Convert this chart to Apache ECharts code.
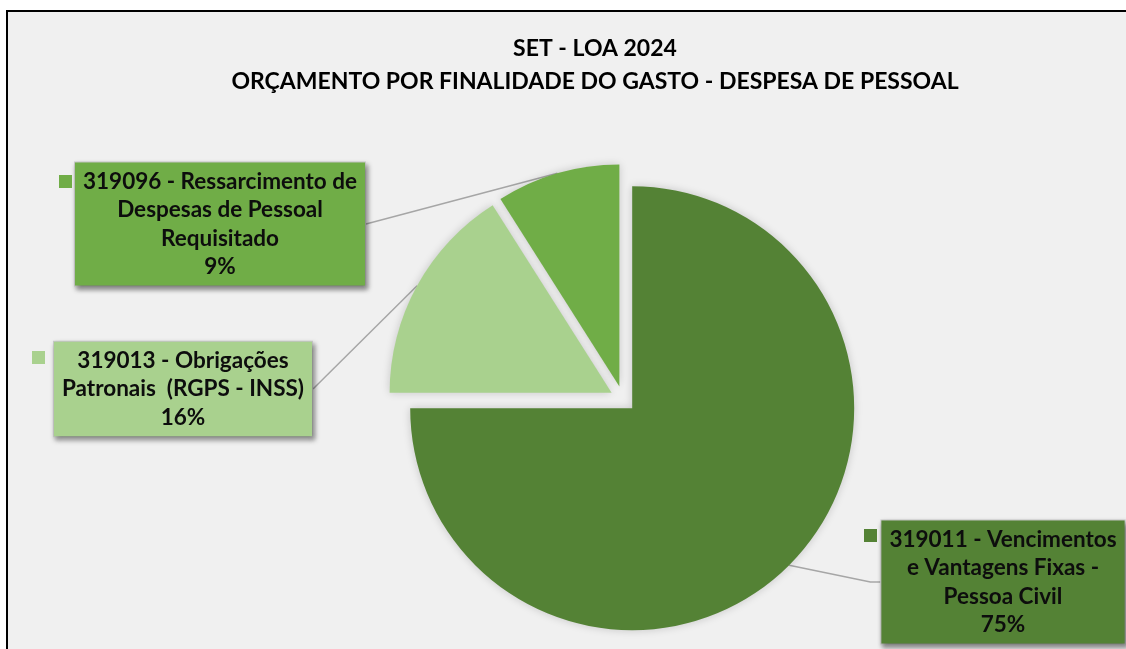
<!DOCTYPE html>
<html>
<head>
<meta charset="utf-8">
<script src="https://cdn.jsdelivr.net/npm/echarts@6/dist/echarts.min.js"></script>
<style>
  html, body { margin: 0; padding: 0; background: #fff; overflow: hidden; }
  #chart {
    position: absolute; left: 6px; top: 10px;
    width: 1174px; height: 680px;
    border: 2px solid #000; background: #f0f0f0;
  }
</style>
</head>
<body>
<div id="chart"></div>
<script>
// dados
const categories = [
  '319011 - Vencimentos\ne Vantagens Fixas -\nPessoa Civil',
  '319013 - Obrigações\nPatronais  (RGPS - INSS)',
  '319096 - Ressarcimento de\nDespesas de Pessoal\nRequisitado'
];
const percents = [75, 16, 9];
const colors = ['#548235', '#A9D18E', '#70AD47'];

// layout
const CENTER = [615, 387];
const RADIUS = 222;
const EXPLODE = 13;
const labelCenters = [[995, 570], [175, 377], [212, 212]];
const keyPos = [[856, 517], [24, 339], [51, 163]];
const lineLen = [[20, 10], [0, 0], [0, 0]];

const FONT = 'Lato';
const FONTSIZE = 22.5;
const myChart = echarts.init(document.getElementById('chart'));

const total = percents.reduce((a, b) => a + b, 0);

// cada fatia em sua propria serie, deslocada para fora (fatia destacada)
let acc = 0;
const series = percents.map((p, k) => {
  const mid = (acc + p / 2) / total * 2 * Math.PI;
  acc += p;
  return {
    type: 'pie',
    center: [CENTER[0] + EXPLODE * Math.sin(mid), CENTER[1] - EXPLODE * Math.cos(mid)],
    radius: RADIUS,
    startAngle: 90,
    clockwise: true,
    silent: true,
    emphasis: { disabled: true },
    label: {
      show: true,
      position: 'outside',
      formatter: '{b}\n{d}%',
      fontFamily: FONT,
      fontWeight: 'bold',
      fontSize: FONTSIZE,
      lineHeight: 28.5,
      color: '#0d0d0d',
      align: 'center',
      padding: [5, 8, 4, 8],
      backgroundColor: colors[k],
      borderColor: '#c8c8c8',
      borderWidth: 1,
      shadowColor: 'rgba(0,0,0,0.45)',
      shadowBlur: 5,
      shadowOffsetX: 2,
      shadowOffsetY: 3
    },
    labelLine: {
      show: true,
      length: lineLen[k][0],
      length2: lineLen[k][1],
      lineStyle: { color: '#a6a6a6', width: 1.5 }
    },
    labelLayout: function (params) {
      const c = labelCenters[params.dataIndex];
      return { x: c[0], y: c[1], align: 'center', verticalAlign: 'middle' };
    },
    data: categories.map((name, i) => i === k ? {
      name: name,
      value: percents[i],
      itemStyle: { color: colors[i], shadowBlur: 8, shadowColor: 'rgba(0,0,0,0.18)' }
    } : {
      name: name,
      value: percents[i],
      itemStyle: { color: 'rgba(0,0,0,0)' },
      label: { show: false },
      labelLine: { show: false }
    })
  };
});

const legends = categories.map((name, i) => ({
  data: [{ name: name, itemStyle: { color: colors[i] } }],
  left: keyPos[i][0],
  top: keyPos[i][1],
  icon: 'rect',
  itemWidth: 13,
  itemHeight: 13,
  itemGap: 0,
  padding: 0,
  selectedMode: false,
  formatter: () => '',
  textStyle: { fontSize: 1 }
}));

myChart.setOption({
  animation: false,
  color: colors,
  title: {
    text: 'SET - LOA 2024\nORÇAMENTO POR FINALIDADE DO GASTO - DESPESA DE PESSOAL',
    left: 'center',
    top: 15,
    textStyle: {
      fontFamily: FONT,
      fontWeight: 'bold',
      fontSize: 23,
      lineHeight: 33,
      color: '#000'
    }
  },
  legend: legends,
  series: series
});
</script>
</body>
</html>
